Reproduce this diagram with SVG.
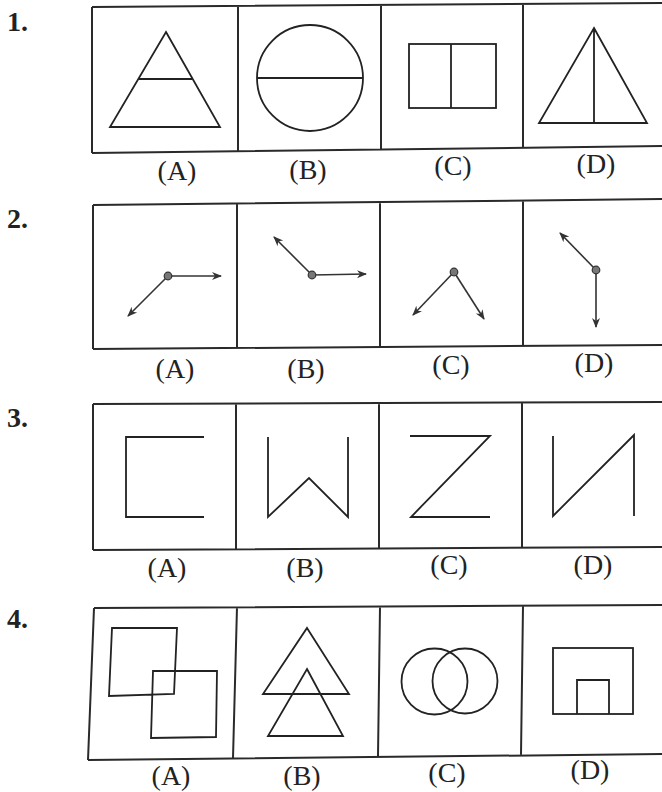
<svg xmlns="http://www.w3.org/2000/svg" width="662" height="792" viewBox="0 0 662 792">
<style>
.frame{fill:none;stroke:#2a2a2a;stroke-width:2}
.fig{fill:none;stroke:#222;stroke-width:1.8;stroke-linejoin:miter}
.arw{fill:none;stroke:#333;stroke-width:1.6}
.dot{fill:#777;stroke:#333;stroke-width:1.2}
.lbl{font-family:"Liberation Serif","Times New Roman",serif;font-size:28px;fill:#222;text-anchor:middle}
.num{font-family:"Liberation Serif","Times New Roman",serif;font-size:28px;font-weight:bold;fill:#222}
</style>
<defs>
<marker id="ah" viewBox="0 0 10 10" refX="9" refY="5" markerWidth="10" markerHeight="10" markerUnits="userSpaceOnUse" orient="auto">
<path d="M0,1 L10,5 L0,9 L3,5 z" fill="#333"/>
</marker>
</defs>
<rect width="662" height="792" fill="#fff"/>

<!-- Row 1 -->
<g id="q1">
<text class="num" x="7" y="31">1.</text>
<path class="frame" d="M92,7 L666,3 M92,153 L666,146 M92,7 L92,153 M238,6 L238,151 M381,5 L381,149.5 M523,4 L523,147.7"/>
<g id="q1a"><path class="fig" d="M166,32 L220,127 L110,127 Z M139,79 L192,79"/><text class="lbl" x="177" y="180">(A)</text></g>
<g id="q1b"><circle class="fig" cx="310" cy="78" r="53"/><path class="fig" d="M257,78 L363,78"/><text class="lbl" x="308" y="179">(B)</text></g>
<g id="q1c"><rect class="fig" x="409" y="44" width="87" height="64"/><path class="fig" d="M451,44 L451,108"/><text class="lbl" x="453" y="175">(C)</text></g>
<g id="q1d"><path class="fig" d="M594,28 L647,123 L539,123 Z M594,28 L594,123"/><text class="lbl" x="596" y="173">(D)</text></g>
</g>

<!-- Row 2 -->
<g id="q2">
<text class="num" x="7" y="228">2.</text>
<path class="frame" d="M93,205 L666,199 M93,349 L666,345 M93,205 L93,349 M237,204 L237,348 M380,203 L380,346 M523,201 L523,345.5"/>
<g id="q2a"><path class="arw" marker-end="url(#ah)" d="M168,276 L221,276"/><path class="arw" marker-end="url(#ah)" d="M168,276 L128,316"/><circle class="dot" cx="168" cy="276" r="3.8"/><text class="lbl" x="175" y="378">(A)</text></g>
<g id="q2b"><path class="arw" marker-end="url(#ah)" d="M312,275 L274,237"/><path class="arw" marker-end="url(#ah)" d="M312,275 L366,274"/><circle class="dot" cx="312" cy="275" r="3.8"/><text class="lbl" x="306" y="378">(B)</text></g>
<g id="q2c"><path class="arw" marker-end="url(#ah)" d="M454,272 L413,315"/><path class="arw" marker-end="url(#ah)" d="M454,272 L484,319"/><circle class="dot" cx="454" cy="272" r="3.8"/><text class="lbl" x="451" y="374">(C)</text></g>
<g id="q2d"><path class="arw" marker-end="url(#ah)" d="M596,270 L560,233"/><path class="arw" marker-end="url(#ah)" d="M596,270 L596,327"/><circle class="dot" cx="596" cy="270" r="3.8"/><text class="lbl" x="594" y="372">(D)</text></g>
</g>

<!-- Row 3 -->
<g id="q3">
<text class="num" x="7" y="427">3.</text>
<path class="frame" d="M93,404 L666,402 M93,550 L666,547 M93,404 L93,550 M236,404 L236,549 M379,403 L379,548 M522,403 L522,547.5"/>
<g id="q3a"><path class="fig" d="M204,437 L126,437 L126,517 L204,517"/><text class="lbl" x="167" y="577">(A)</text></g>
<g id="q3b"><path class="fig" d="M268,437 L268,517 L309,478 L348,517 L348,437"/><text class="lbl" x="305" y="577">(B)</text></g>
<g id="q3c"><path class="fig" d="M410,436 L490,436 L411,517 L490,517"/><text class="lbl" x="449" y="574">(C)</text></g>
<g id="q3d"><path class="fig" d="M553,436 L553,516 L634,435 L634,516"/><text class="lbl" x="593" y="574">(D)</text></g>
</g>

<!-- Row 4 -->
<g id="q4">
<text class="num" x="7" y="628">4.</text>
<path class="frame" d="M94,608 L666,605 M88,760 L666,754 M94,608 L88,760 M237,607 L233,758 M380,607 L378,756 M523,606 L521,754.5"/>
<g id="q4a"><path class="fig" d="M112,628 L177,628 L174,694 L109,696 Z M153,671 L217,671 L216,737 L151,738 Z"/><text class="lbl" x="171" y="785">(A)</text></g>
<g id="q4b"><path class="fig" d="M307,628 L349,694 L263,694 Z M307,669 L343,736 L268,736 Z"/><text class="lbl" x="302" y="785">(B)</text></g>
<g id="q4c"><circle class="fig" cx="434.5" cy="681.5" r="33"/><circle class="fig" cx="465" cy="681" r="32.5"/><text class="lbl" x="447" y="782">(C)</text></g>
<g id="q4d"><rect class="fig" x="553" y="648" width="80" height="66"/><path class="fig" d="M577,714 L577,680 L609,680 L609,714"/><text class="lbl" x="590" y="779">(D)</text></g>
</g>
</svg>
